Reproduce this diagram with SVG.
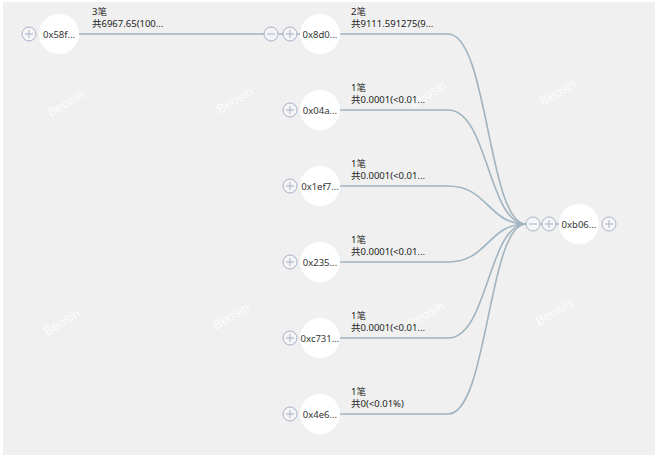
<svg xmlns="http://www.w3.org/2000/svg" width="659" height="461" viewBox="0 0 659 461">
<style>
.bg{fill:#f0f0f0}
.wm{font-family:"Liberation Sans","Noto Sans",sans-serif;font-size:13px;fill:#ffffff;fill-opacity:0.85}
.node{fill:#ffffff}
.nl{font-family:"Noto Sans","Noto Sans CJK SC",sans-serif;font-size:9.5px;fill:#333333;text-anchor:middle}
.el{font-family:"Noto Sans","Noto Sans CJK SC",sans-serif;font-size:9.5px;fill:#222222}
.btn{fill:#f5f5f7;stroke:#a9b1c6;stroke-width:1}
.sym{stroke:#a9b1c6;stroke-width:1;fill:none}
.edge{fill:none;stroke:#9fb3c0;stroke-width:1.6}
</style>
<defs>
<g id="plus"><circle class="btn" r="7"/><path class="sym" d="M-4,0H4M0,-4V4"/></g>
<g id="minus"><circle class="btn" r="7"/><path class="sym" d="M-4,0H4"/></g>
</defs>
<rect class="bg" x="3" y="2" width="652" height="453"/>
<g id="watermarks">
<text class="wm" transform="translate(68,107) rotate(-30)" text-anchor="middle">Beosin</text>
<text class="wm" transform="translate(237,104) rotate(-30)" text-anchor="middle">Beosin</text>
<text class="wm" transform="translate(430,98) rotate(-30)" text-anchor="middle">Beosin</text>
<text class="wm" transform="translate(560,96) rotate(-30)" text-anchor="middle">Beosin</text>
<text class="wm" transform="translate(64,326) rotate(-30)" text-anchor="middle">Beosin</text>
<text class="wm" transform="translate(233,320) rotate(-30)" text-anchor="middle">Beosin</text>
<text class="wm" transform="translate(428,318) rotate(-30)" text-anchor="middle">Beosin</text>
<text class="wm" transform="translate(556,316) rotate(-30)" text-anchor="middle">Beosin</text>
</g>
<g id="connectors">
<path class="edge" d="M79,34H264"/>
<path class="edge" d="M279,34H283M297,34H300"/>
<path class="edge" d="M340,34H448C488,34 488,224 526,224"/>
<path class="edge" d="M340,110H448C488,110 488,224 526,224"/>
<path class="edge" d="M340,186H448C488,186 488,224 526,224"/>
<path class="edge" d="M340,262H448C488,262 488,224 526,224"/>
<path class="edge" d="M340,338H448C488,338 488,224 526,224"/>
<path class="edge" d="M340,414H448C488,414 488,224 526,224"/>
<path class="edge" d="M540,224H542M556,224H560"/>
<text class="el" x="92" y="15">3笔</text>
<text class="el" x="92" y="27">共6967.65(100...</text>
<text class="el" x="351" y="15">2笔</text>
<text class="el" x="351" y="27">共9111.591275(9...</text>
<text class="el" x="351" y="91">1笔</text>
<text class="el" x="351" y="103">共0.0001(&lt;0.01...</text>
<text class="el" x="351" y="167">1笔</text>
<text class="el" x="351" y="179">共0.0001(&lt;0.01...</text>
<text class="el" x="351" y="243">1笔</text>
<text class="el" x="351" y="255">共0.0001(&lt;0.01...</text>
<text class="el" x="351" y="319">1笔</text>
<text class="el" x="351" y="331">共0.0001(&lt;0.01...</text>
<text class="el" x="351" y="395">1笔</text>
<text class="el" x="351" y="407">共0(&lt;0.01%)</text>
</g>
<g id="n-0x58f"><use href="#plus" x="29" y="34"/><circle class="node" cx="59" cy="34" r="20"/><text class="nl" x="59" y="38">0x58f...</text></g>
<g id="n-0x8d0"><use href="#minus" x="271" y="34"/><use href="#plus" x="290" y="34"/><circle class="node" cx="320" cy="34" r="20"/><text class="nl" x="320" y="38">0x8d0...</text></g>
<g id="n-0x04a"><use href="#plus" x="290" y="110"/><circle class="node" cx="320" cy="110" r="20"/><text class="nl" x="320" y="114">0x04a...</text></g>
<g id="n-0x1ef7"><use href="#plus" x="290" y="186"/><circle class="node" cx="320" cy="186" r="20"/><text class="nl" x="320" y="190">0x1ef7...</text></g>
<g id="n-0x235"><use href="#plus" x="290" y="262"/><circle class="node" cx="320" cy="262" r="20"/><text class="nl" x="320" y="266">0x235...</text></g>
<g id="n-0xc731"><use href="#plus" x="290" y="338"/><circle class="node" cx="320" cy="338" r="20"/><text class="nl" x="320" y="342">0xc731...</text></g>
<g id="n-0x4e6"><use href="#plus" x="290" y="414"/><circle class="node" cx="320" cy="414" r="20"/><text class="nl" x="320" y="418">0x4e6...</text></g>
<g id="n-0xb06"><use href="#minus" x="533" y="224"/><use href="#plus" x="549" y="224"/><circle class="node" cx="579" cy="224" r="20"/><text class="nl" x="579" y="228">0xb06...</text><use href="#plus" x="609" y="224"/></g>
</svg>
